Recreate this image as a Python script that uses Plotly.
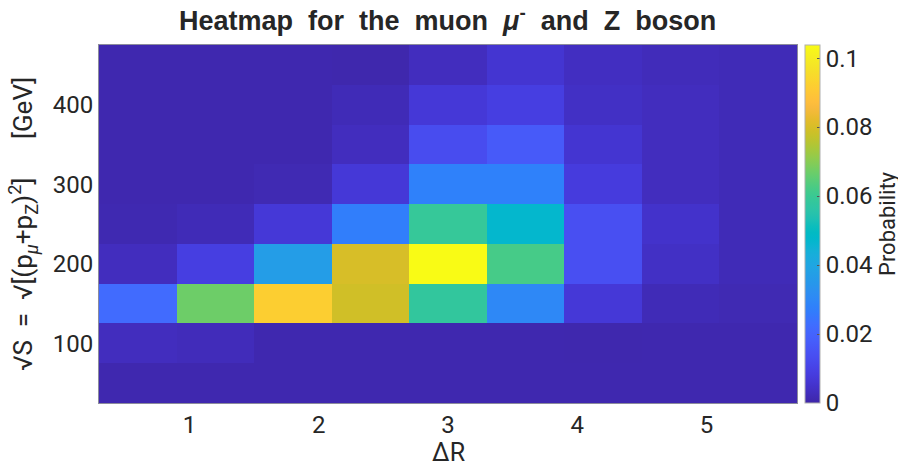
import plotly.graph_objects as go

# Bin centres
delta_r = [0.6, 1.2, 1.8, 2.4, 3.0, 3.6, 4.2, 4.8, 5.4]
sqrt_s = [50, 100, 150, 200, 250, 300, 350, 400, 450]

# Probability per (sqrt_s, delta_r) bin, rows follow sqrt_s
prob_50 = [0.001, 0.001, 0.001, 0.001, 0.001, 0.001, 0.001, 0.001, 0.001]
prob_100 = [0.003, 0.0025, 0.001, 0.001, 0.001, 0.001, 0.0008, 0.001, 0.001]
prob_150 = [0.022, 0.067, 0.092, 0.079, 0.058, 0.030, 0.007, 0.002, 0.0015]
prob_200 = [0.003, 0.009, 0.037, 0.080, 0.1038, 0.062, 0.014, 0.004, 0.002]
prob_250 = [0.0012, 0.002, 0.007, 0.027, 0.059, 0.047, 0.014, 0.005, 0.002]
prob_300 = [0.001, 0.001, 0.0015, 0.007, 0.028, 0.028, 0.008, 0.003, 0.002]
prob_350 = [0.001, 0.001, 0.001, 0.003, 0.013, 0.017, 0.006, 0.003, 0.002]
prob_400 = [0.001, 0.001, 0.001, 0.002, 0.007, 0.009, 0.004, 0.003, 0.002]
prob_450 = [0.001, 0.001, 0.001, 0.0007, 0.003, 0.006, 0.0035, 0.0025, 0.002]

z = [prob_50, prob_100, prob_150, prob_200, prob_250,
     prob_300, prob_350, prob_400, prob_450]

cbar_ticks = [0, 0.02, 0.04, 0.06, 0.08, 0.1]
x_ticks = [1, 2, 3, 4, 5]
y_ticks = [100, 200, 300, 400]

# MATLAB parula (64 entries)
parula = [
    (0.2422, 0.1504, 0.6603), (0.2504, 0.1650, 0.7076), (0.2578, 0.1818, 0.7511),
    (0.2647, 0.1978, 0.7952), (0.2706, 0.2147, 0.8364), (0.2751, 0.2342, 0.8710),
    (0.2783, 0.2559, 0.8991), (0.2803, 0.2782, 0.9221), (0.2813, 0.3006, 0.9414),
    (0.2810, 0.3228, 0.9579), (0.2795, 0.3447, 0.9717), (0.2760, 0.3667, 0.9829),
    (0.2699, 0.3892, 0.9906), (0.2602, 0.4123, 0.9952), (0.2440, 0.4358, 0.9988),
    (0.2206, 0.4603, 0.9973), (0.1963, 0.4847, 0.9892), (0.1834, 0.5074, 0.9798),
    (0.1786, 0.5289, 0.9682), (0.1764, 0.5499, 0.9520), (0.1687, 0.5703, 0.9359),
    (0.1540, 0.5902, 0.9218), (0.1460, 0.6091, 0.9079), (0.1380, 0.6276, 0.8973),
    (0.1248, 0.6459, 0.8883), (0.1113, 0.6635, 0.8763), (0.0952, 0.6798, 0.8598),
    (0.0689, 0.6948, 0.8394), (0.0297, 0.7082, 0.8163), (0.0036, 0.7203, 0.7917),
    (0.0067, 0.7312, 0.7660), (0.0433, 0.7411, 0.7394), (0.0964, 0.7500, 0.7120),
    (0.1408, 0.7584, 0.6842), (0.1717, 0.7670, 0.6554), (0.1938, 0.7758, 0.6251),
    (0.2161, 0.7843, 0.5923), (0.2470, 0.7918, 0.5567), (0.2906, 0.7973, 0.5188),
    (0.3406, 0.8008, 0.4789), (0.3909, 0.8029, 0.4354), (0.4456, 0.8024, 0.3909),
    (0.5044, 0.7993, 0.3480), (0.5616, 0.7942, 0.3045), (0.6174, 0.7876, 0.2612),
    (0.6720, 0.7793, 0.2227), (0.7242, 0.7698, 0.1910), (0.7738, 0.7598, 0.1646),
    (0.8203, 0.7498, 0.1535), (0.8634, 0.7406, 0.1596), (0.9035, 0.7330, 0.1774),
    (0.9393, 0.7288, 0.2100), (0.9728, 0.7298, 0.2394), (0.9956, 0.7434, 0.2371),
    (0.9970, 0.7659, 0.2199), (0.9952, 0.7893, 0.2028), (0.9892, 0.8136, 0.1885),
    (0.9786, 0.8386, 0.1766), (0.9676, 0.8639, 0.1643), (0.9610, 0.8890, 0.1537),
    (0.9597, 0.9135, 0.1423), (0.9628, 0.9373, 0.1265), (0.9691, 0.9606, 0.1064),
    (0.9769, 0.9839, 0.0805),
]
n = len(parula)
colorscale = [
    [i / (n - 1), "rgb(%d,%d,%d)" % tuple(round(c * 255) for c in rgb)]
    for i, rgb in enumerate(parula)
]

text_color = "#262626"
font_family = "Roboto, 'Liberation Sans', Arial, sans-serif"
nb = "\u00a0"

fig = go.Figure(
    go.Heatmap(
        x=delta_r,
        y=sqrt_s,
        z=z,
        colorscale=colorscale,
        zmin=0,
        zmax=max(max(r) for r in z),
        colorbar=dict(
            x=1.012,
            xanchor="left",
            xpad=0,
            y=0.5,
            yanchor="middle",
            len=1,
            lenmode="fraction",
            ypad=0,
            thickness=15,
            outlinewidth=1,
            outlinecolor="#b0b0b0",
            tickvals=cbar_ticks,
            ticktext=["0", "0.02", "0.04", "0.06", "0.08", "0.1"],
            ticks="inside",
            ticklen=3,
            tickcolor="#555555",
            tickfont=dict(size=24, color=text_color, family=font_family),
            title=dict(
                text="Probability",
                side="right",
                font=dict(size=22, color=text_color, family=font_family),
            ),
        ),
    )
)

fig.update_layout(
    width=898,
    height=465,
    margin=dict(l=99, r=101, t=45, b=62, autoexpand=False),
    paper_bgcolor="white",
    plot_bgcolor="white",
    font=dict(family=font_family, color=text_color),
    title=dict(
        text="<b>Heatmap  for  the  muon  <i>μ</i><sup>-</sup>  and  Z  boson</b>",
        x=0.4985,
        xanchor="center",
        y=1 - 21 / 465,
        yanchor="middle",
        font=dict(size=27, color=text_color, family="'Liberation Sans', Arial, sans-serif"),
    ),
    xaxis=dict(
        range=[0.3, 5.7],
        tickvals=x_ticks,
        ticks="",
        tickfont=dict(size=24, color=text_color),
        showgrid=False,
        zeroline=False,
        showline=True,
        linecolor="#8c8c9c",
        linewidth=1,
        mirror=True,
        automargin=False,
    ),
    yaxis=dict(
        range=[25, 475],
        tickvals=y_ticks,
        ticks="",
        tickfont=dict(size=24, color=text_color),
        title=dict(
            text=("√S" + nb * 2 + "=" + nb * 2
                  + "√[(p<sub><i>μ</i></sub>+p<sub>Z</sub>)<sup>2</sup>]"
                  + nb * 6 + "[GeV]"),
            font=dict(size=26, color=text_color),
            standoff=12,
        ),
        showgrid=False,
        zeroline=False,
        showline=True,
        linecolor="#8c8c9c",
        linewidth=1,
        mirror=True,
        automargin=False,
    ),
    annotations=[
        dict(
            text="ΔR",
            x=0.5,
            xref="paper",
            y=-0.138,
            yref="paper",
            xanchor="center",
            yanchor="middle",
            showarrow=False,
            font=dict(size=25, color=text_color, family=font_family),
        )
    ],
)

fig.write_html("out.html")
